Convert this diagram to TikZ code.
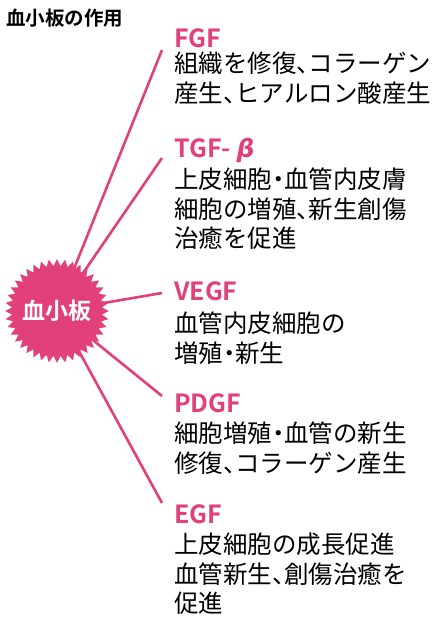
\documentclass[tikz,border=0pt]{standalone}
\usepackage{fontspec}
\setmainfont{Noto Sans CJK JP}[BoldFont={Noto Sans CJK JP Bold}]
\newfontfamily\grkfont{DejaVu Sans}
\newfontfamily\halffont{Noto Sans CJK JP}[RawFeature=+halt]
\newcommand\hp[1]{{\halffont #1}}
\usepackage{tikz}
\usetikzlibrary{calc}
\definecolor{ppink}{HTML}{E2407A}

\begin{document}
\begin{tikzpicture}[x=1pt, y=-1pt,
  gfname/.style={anchor=base west, inner sep=0pt, text=ppink,
    font=\fontsize{25}{30}\selectfont\bfseries},
  effect/.style={anchor=north west, inner sep=0pt, align=left,
    font=\fontsize{24.5}{29.5}\selectfont},
  spoke/.style={ppink, line width=2.6pt}]
\useasboundingbox (0,0) rectangle (440,624);
% ---------- title ----------
\node[anchor=base west, inner sep=0pt, font=\fontsize{19.5}{22}\selectfont\bfseries]
  (title) at (6,25) {血小板の作用};
% ---------- spokes (behind the star) ----------
\coordinate (hub) at (57,311);
\coordinate (fgf-tip)  at (162,50);
\coordinate (tgf-tip)  at (162,158);
\coordinate (vegf-tip) at (162,293);
\coordinate (pdgf-tip) at (162,396);
\coordinate (egf-tip)  at (162,503);
\foreach \t in {fgf,tgf,vegf,pdgf,egf}
  \draw[spoke] (hub) -- (\t-tip);
% ---------- platelet star ----------
\begin{scope}[shift={(hub)}]
\fill[ppink] (0:52) \foreach \i in {1,...,79}{
  -- ({\i*4.5}:{mod(\i,2)==1 ? 45 : 52}) } -- cycle;
\end{scope}
\node[text=white, inner sep=0pt, font=\fontsize{23}{26}\selectfont\bfseries]
  (plt) at (hub) {血小板};
% ---------- growth factors ----------
\node[gfname] (fgf) at (174,47) {FGF};
\node[effect] (fgf-txt) at (174,52) {組織を修復\hp{、}コラーゲン\\産生\hp{、}ヒアルロン酸産生};
\node[gfname] (tgf) at (174,157) {TGF- {\grkfont\itshape β}};
\node[effect] (tgf-txt) at (174,168) {上皮細胞\hp{・}血管内皮膚\\細胞の増殖\hp{、}新生創傷\\治癒を促進};
\node[gfname] (vegf) at (174,300) {VEGF};
\node[effect] (vegf-txt) at (174,312) {血管内皮細胞の\\増殖\hp{・}新生};
\node[gfname] (pdgf) at (174,412) {PDGF};
\node[effect] (pdgf-txt) at (174,422) {細胞増殖\hp{・}血管の新生\\修復\hp{、}コラーゲン産生};
\node[gfname] (egf) at (174,523) {EGF};
\node[effect] (egf-txt) at (174,533) {上皮細胞の成長促進\\血管新生\hp{、}創傷治癒を\\促進};
\end{tikzpicture}
\end{document}
